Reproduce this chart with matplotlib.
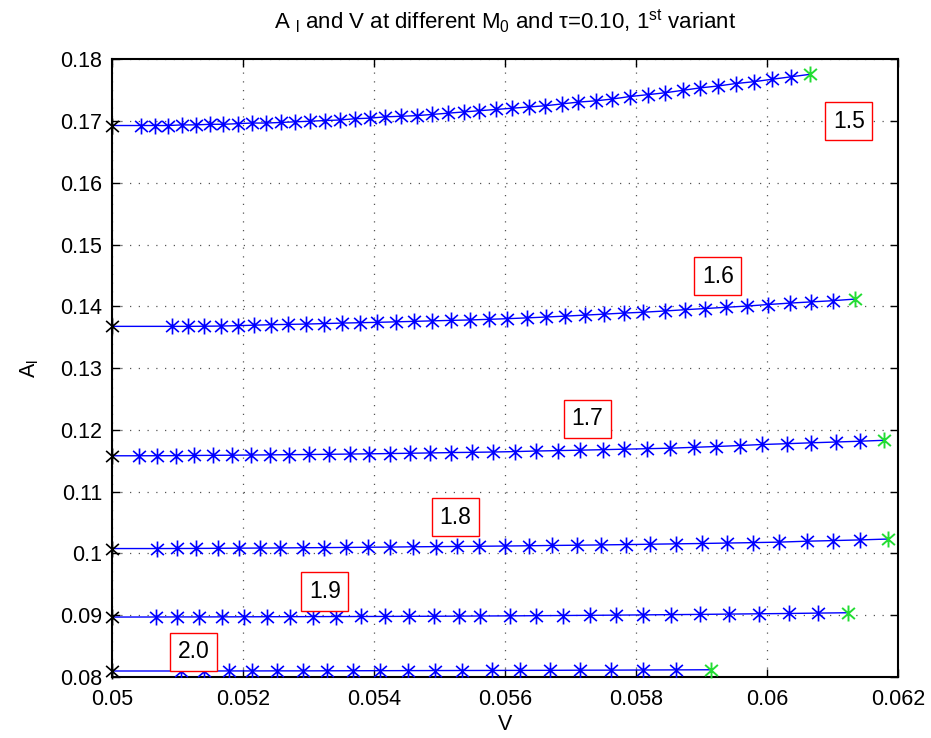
import matplotlib
matplotlib.use("Agg")
import matplotlib.pyplot as plt
from matplotlib.path import Path
from matplotlib.ticker import FormatStrFormatter

plt.rcParams['font.family'] = ['Liberation Sans', 'DejaVu Sans']
plt.rcParams['mathtext.fontset'] = 'custom'
plt.rcParams['mathtext.rm'] = 'Liberation Sans'
plt.rcParams['mathtext.it'] = 'Liberation Sans:italic'

# M0 = 1.5
v_15 = [0.05, 0.05044, 0.05066, 0.05086, 0.05107, 0.05128, 0.05149, 0.05170, 0.05192,
        0.05213, 0.05235, 0.05258, 0.05280, 0.05302, 0.05325, 0.05348, 0.05371,
        0.05394, 0.05417, 0.05441, 0.05465, 0.05489, 0.05513, 0.05537, 0.05561,
        0.05586, 0.05610, 0.05636, 0.05661, 0.05687, 0.05712, 0.05739, 0.05764,
        0.05791, 0.05818, 0.05844, 0.05871, 0.05898, 0.05925, 0.05952, 0.05980,
        0.06008, 0.06037, 0.06066]
a_15 = [0.1693, 0.1693, 0.1693, 0.1693, 0.1694, 0.1694, 0.1695, 0.1695, 0.1696,
        0.1697, 0.1697, 0.1698, 0.1699, 0.1700, 0.1701, 0.1702, 0.1704,
        0.1705, 0.1707, 0.1708, 0.1709, 0.1711, 0.1713, 0.1715, 0.1717,
        0.1719, 0.1721, 0.1723, 0.1725, 0.1728, 0.1731, 0.1733, 0.1736,
        0.1740, 0.1743, 0.1746, 0.1750, 0.1754, 0.1757, 0.1761, 0.1764,
        0.1768, 0.1772, 0.1776]

# M0 = 1.6
v_16 = [0.05, 0.05091, 0.05116, 0.05141, 0.05166, 0.05192, 0.05217, 0.05243, 0.05269,
        0.05296, 0.05324, 0.05351, 0.05378, 0.05405, 0.05433, 0.05461, 0.05489,
        0.05518, 0.05547, 0.05575, 0.05603, 0.05633, 0.05662, 0.05692, 0.05722,
        0.05751, 0.05781, 0.05811, 0.05844, 0.05875, 0.05906, 0.05937, 0.05970,
        0.06002, 0.06035, 0.06067, 0.06101, 0.06134]
a_16 = [0.13676, 0.13676, 0.13676, 0.13678, 0.13681, 0.13687, 0.13695, 0.13703, 0.13708,
        0.13713, 0.13721, 0.13729, 0.13735, 0.13741, 0.13749, 0.13757, 0.13765,
        0.13773, 0.13780, 0.13790, 0.13800, 0.13813, 0.13827, 0.13842, 0.13858,
        0.13874, 0.13891, 0.13905, 0.13925, 0.13946, 0.13965, 0.13985, 0.14005,
        0.14030, 0.14053, 0.14072, 0.14092, 0.14118]

# M0 = 1.7
v_17 = [0.05, 0.05041, 0.05069, 0.05097, 0.05125, 0.05154, 0.05183, 0.05212, 0.05241,
        0.05270, 0.05301, 0.05332, 0.05363, 0.05393, 0.05424, 0.05455, 0.05486,
        0.05518, 0.05550, 0.05582, 0.05615, 0.05648, 0.05681, 0.05715, 0.05749,
        0.05782, 0.05817, 0.05852, 0.05888, 0.05922, 0.05958, 0.05993, 0.06031,
        0.06067, 0.06105, 0.06142, 0.06179]
a_17 = [0.11579, 0.11579, 0.11580, 0.11581, 0.11584, 0.11586, 0.11588, 0.11591, 0.11594,
        0.11597, 0.11600, 0.11603, 0.11607, 0.11611, 0.11615, 0.11620, 0.11625,
        0.11631, 0.11635, 0.11640, 0.11647, 0.11656, 0.11663, 0.11670, 0.11678,
        0.11686, 0.11694, 0.11702, 0.11716, 0.11729, 0.11745, 0.11762, 0.11775,
        0.11789, 0.11802, 0.11815, 0.11830]

# M0 = 1.8
v_18 = [0.05, 0.05068, 0.05099, 0.05129, 0.05162, 0.05194, 0.05226, 0.05257, 0.05291,
        0.05324, 0.05357, 0.05391, 0.05424, 0.05459, 0.05494, 0.05527, 0.05561,
        0.05600, 0.05636, 0.05672, 0.05710, 0.05747, 0.05784, 0.05821, 0.05861,
        0.05900, 0.05939, 0.05979, 0.06019, 0.06061, 0.06101, 0.06142, 0.06184]
a_18 = [0.10076, 0.10076, 0.10077, 0.10078, 0.10080, 0.10082, 0.10084, 0.10086, 0.10089,
        0.10091, 0.10094, 0.10097, 0.10100, 0.10104, 0.10107, 0.10110, 0.10113,
        0.10117, 0.10121, 0.10126, 0.10130, 0.10135, 0.10140, 0.10146, 0.10152,
        0.10158, 0.10165, 0.10172, 0.10180, 0.10195, 0.10205, 0.10216, 0.10230]

# M0 = 1.9
v_19 = [0.05, 0.05067, 0.05099, 0.05133, 0.05168, 0.05201, 0.05236, 0.05271, 0.05307,
        0.05342, 0.05380, 0.05417, 0.05453, 0.05492, 0.05529, 0.05562, 0.05608,
        0.05648, 0.05689, 0.05729, 0.05769, 0.05810, 0.05853, 0.05897, 0.05942,
        0.05987, 0.06033, 0.06078, 0.06124]
a_19 = [0.08966, 0.08967, 0.08968, 0.08968, 0.08969, 0.08970, 0.08971, 0.08972, 0.08973,
        0.08974, 0.08975, 0.08976, 0.08978, 0.08979, 0.08981, 0.08983, 0.08985,
        0.08988, 0.08991, 0.08994, 0.08997, 0.09001, 0.09005, 0.09009, 0.09014,
        0.09019, 0.09024, 0.09030, 0.09036]

# M0 = 2.0
v_20 = [0.05, 0.05106, 0.05141, 0.05179, 0.05213, 0.05252, 0.05291, 0.05328, 0.05368,
        0.05409, 0.05452, 0.05493, 0.05535, 0.05580, 0.05623, 0.05668, 0.05715,
        0.05762, 0.05810, 0.05861, 0.05915]
a_20 = [0.08092, 0.08092, 0.08092, 0.08093, 0.08093, 0.08094, 0.08094, 0.08095, 0.08096,
        0.08097, 0.08098, 0.08099, 0.08100, 0.08101, 0.08102, 0.08103, 0.08105,
        0.08106, 0.08108, 0.08110, 0.08112]

labels = ['1.5', '1.6', '1.7', '1.8', '1.9', '2.0']
label_v = [0.06125, 0.05925, 0.05726, 0.05524, 0.05325, 0.05125]
label_a = [0.1700, 0.1449, 0.1218, 0.1058, 0.0938, 0.0840]

series = [(v_15, a_15), (v_16, a_16), (v_17, a_17),
          (v_18, a_18), (v_19, a_19), (v_20, a_20)]

# matlab style asterisk: vertical bar plus an X
star = Path([(0, -1), (0, 1), (-0.8, -0.7), (0.8, 0.7), (-0.8, 0.7), (0.8, -0.7)],
            [Path.MOVETO, Path.LINETO, Path.MOVETO, Path.LINETO, Path.MOVETO, Path.LINETO])

fig = plt.figure(figsize=(9.31, 7.38), dpi=100)
ax = fig.add_axes([0.1203, 0.0831, 0.8443, 0.8363])

for v, a in series:
    ax.plot(v, a, color='#0000ff', lw=1.0, zorder=3)
    ax.plot(v[1:-1], a[1:-1], ls='none', marker=star, ms=11.5, mec='#0000ff',
            mew=1.2, zorder=4)
    ax.plot(v[0], a[0], ls='none', marker=star, ms=11.5, mec='black', mew=1.2,
            zorder=5, clip_on=False)
    ax.plot(v[-1], a[-1], ls='none', marker=star, ms=11.5, mec='#22dd33', mew=1.4,
            zorder=5, clip_on=False)

for lab, x, y in zip(labels, label_v, label_a):
    ax.text(x, y, lab, fontsize=16.5, ha='center', va='center', zorder=6,
            bbox=dict(boxstyle='square,pad=0.33', fc='white', ec='red', lw=1.0))

ax.set_xlim(0.05, 0.062)
ax.set_ylim(0.08, 0.18)
ax.set_xticks([0.05, 0.052, 0.054, 0.056, 0.058, 0.06, 0.062])
ax.set_yticks([0.08, 0.09, 0.1, 0.11, 0.12, 0.13, 0.14, 0.15, 0.16, 0.17, 0.18])
ax.xaxis.set_major_formatter(FormatStrFormatter('%g'))
ax.yaxis.set_major_formatter(FormatStrFormatter('%g'))
ax.tick_params(direction='in', top=True, right=True, length=6, width=1.0,
               labelsize=15.5)
ax.tick_params(axis='x', pad=9)
ax.tick_params(axis='y', pad=7)
ax.grid(True, color='#555555', ls=(0, (1, 6)), lw=0.9)
for s in ax.spines.values():
    s.set_linewidth(1.5)

ax.set_xlabel('V', fontsize=15.5, labelpad=3)
ax.set_ylabel(r'A$_{\mathrm{l}}$', fontsize=15.5, labelpad=14)
ax.set_title(r'A $_{\mathrm{l}}$ and V at different M$_0$ and τ=0.10, 1$^{\mathrm{st}}$ variant',
             fontsize=16, pad=22)

fig.savefig('out.png', dpi=100)
